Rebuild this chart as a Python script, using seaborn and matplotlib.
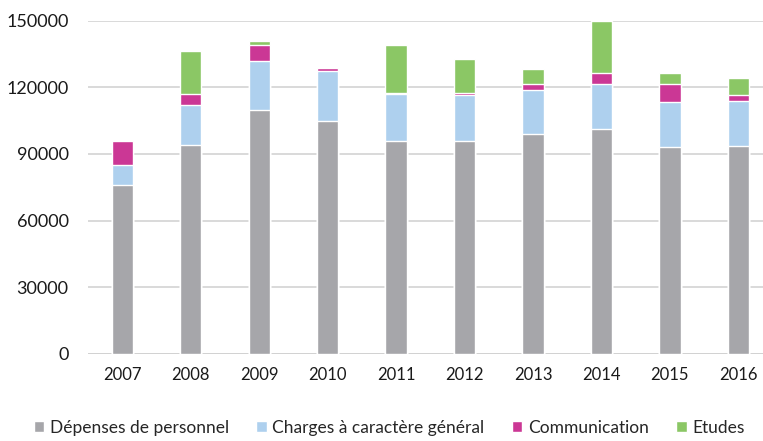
import numpy as np
import pandas as pd
import seaborn as sns
import matplotlib.pyplot as plt

# Values (stacked components per year)
years = ["2007", "2008", "2009", "2010", "2011", "2012", "2013", "2014", "2015", "2016"]
personnel = [76000, 94000, 110000, 105000, 96000, 96000, 99000, 101500, 93000, 93800]
charges = [9000, 18000, 22000, 22500, 21000, 20500, 20000, 20000, 20300, 20300]
communication = [10800, 5000, 7300, 1300, 500, 900, 2700, 5000, 8100, 2700]
etudes = [0, 19500, 1800, 0, 21700, 15300, 6700, 23400, 5000, 7700]

series_names = ["Dépenses de personnel", "Charges à caractère général", "Communication", "Etudes"]
colors = ["#A6A6AA", "#AED0EE", "#CB3795", "#8BC765"]

df = pd.DataFrame({
    "year": years,
    series_names[0]: personnel,
    series_names[1]: charges,
    series_names[2]: communication,
    series_names[3]: etudes,
})

# cumulative tops, so each layer is drawn as a full bar behind the one below it
cum = df[series_names].cumsum(axis=1)

sns.set_theme(style="white")
plt.rcParams["font.family"] = ["Lato", "DejaVu Sans"]

fig = plt.figure(figsize=(7.63, 4.41), dpi=100)
ax = fig.add_axes([0.1153, 0.1984, 0.8847, 0.7540])

for name, color in reversed(list(zip(series_names, colors))):
    sns.barplot(x=df["year"], y=cum[name], color=color, saturation=1,
                width=0.31, label=name, ax=ax, zorder=3)

ax.set_ylim(0, 150000)
ax.set_xlim(-0.5, 9.36)
ax.set_yticks(np.arange(0, 150001, 30000))
ax.yaxis.grid(True, color="#D0D0D0", linewidth=1.1, zorder=0)
ax.set_axisbelow(True)
for s in ax.spines.values():
    s.set_visible(False)
ax.axhline(0, color="#D0D0D0", linewidth=1.1, zorder=1)
ax.set_xlabel("")
ax.set_ylabel("")
ax.tick_params(axis="y", labelsize=13, labelcolor="#1a1a1a", length=0, pad=14)
ax.tick_params(axis="x", labelsize=12, labelcolor="#1a1a1a", length=0, pad=10)

handles, labels = ax.get_legend_handles_labels()
order = [labels.index(n) for n in series_names]
ax.legend([handles[i] for i in order], [labels[i] for i in order],
          loc="lower center", bbox_to_anchor=(0.51, -0.012), bbox_transform=fig.transFigure,
          ncol=4, frameon=False, fontsize=12.5, handlelength=0.6, handleheight=0.6,
          handletextpad=0.3, columnspacing=1.6, borderaxespad=0.2)

fig.savefig("out.png", dpi=100)
